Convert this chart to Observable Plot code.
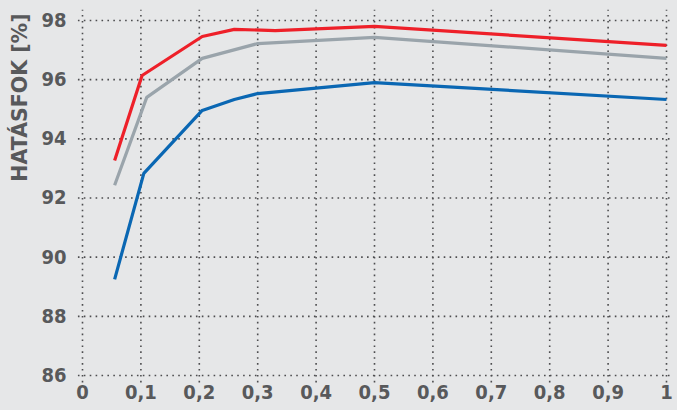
<!DOCTYPE html>
<html><head><meta charset="utf-8">
<script src="https://cdn.jsdelivr.net/npm/d3@7"></script>
<script src="https://cdn.jsdelivr.net/npm/@observablehq/plot@0.6"></script>
<style>
html,body{margin:0;padding:0;background:#e6e7e8;}
#chart svg{display:block;background:#e6e7e8;}
</style></head>
<body><div id="chart"></div>
<script>
const yLabel = "HATÁSFOK [%]";
const xTicks = [0,0.1,0.2,0.3,0.4,0.5,0.6,0.7,0.8,0.9,1];
const yTicks = [86,88,90,92,94,96,98];

const redX = [0.055,0.102,0.205,0.26,0.33,0.5,1];
const redY = [93.27,96.14,97.46,97.7,97.66,97.8,97.16];
const grayX = [0.055,0.11,0.205,0.3,0.5,1];
const grayY = [92.43,95.4,96.72,97.22,97.43,96.72];
const blueX = [0.055,0.105,0.205,0.26,0.3,0.5,1];
const blueY = [89.25,92.83,94.96,95.33,95.53,95.9,95.33];

const series = [
  {name:"blue", color:"#0a67b3", xs:blueX, ys:blueY},
  {name:"gray", color:"#9aa4ab", xs:grayX, ys:grayY},
  {name:"red", color:"#ee2029", xs:redX, ys:redY}
];
const rows = series.flatMap(s => s.xs.map((x,i)=>({s:s.name, x, y:s.ys[i]})));
const colorOf = Object.fromEntries(series.map(s=>[s.name,s.color]));

const font = "'Liberation Sans Narrow','DejaVu Sans Condensed','Roboto Condensed',sans-serif";
const txt = "#58595b";
const gridStyle = {stroke:"#4d4d4f", strokeWidth:1.6, strokeDasharray:"1.6,4.3", strokeOpacity:1};

const chart = Plot.plot({
  width: 677, height: 410,
  marginLeft: 82, marginRight: 11, marginTop: 20, marginBottom: 35,
  style: {background:"#e6e7e8", fontFamily: font, fontWeight:"bold", fontSize:"20px", color:txt},
  x: {domain:[0,1]},
  y: {domain:[86,98]},
  marks: [
    Plot.ruleX(xTicks, {x:d=>d, y1:85.75, y2:98.35, ...gridStyle}),
    Plot.ruleY(yTicks, {y:d=>d, x1:-0.007, x2:1.007, ...gridStyle}),
    Plot.axisY({ticks:yTicks, tickSize:0, tickPadding:16, label:null, fill:txt, fontSize:20, fontWeight:"bold"}),
    Plot.axisX({ticks:xTicks, tickSize:0, tickPadding:9, label:null, fill:txt, fontSize:20, fontWeight:"bold",
      tickFormat: d => String(d).replace(".", ",")}),
    Plot.line(rows, {x:"x", y:"y", z:"s", stroke:d=>colorOf[d.s], strokeWidth:3.2, strokeLinejoin:"miter", strokeLinecap:"butt"}),
    Plot.text([yLabel], {text:d=>d, frameAnchor:"top-left", rotate:-90, textAnchor:"end", dx:-70, dy:-7,
      fill:txt, fontSize:20.5, fontWeight:"bold", fontFamily:"'DejaVu Sans',sans-serif"})
  ]
});
document.getElementById("chart").appendChild(chart);
</script></body></html>
